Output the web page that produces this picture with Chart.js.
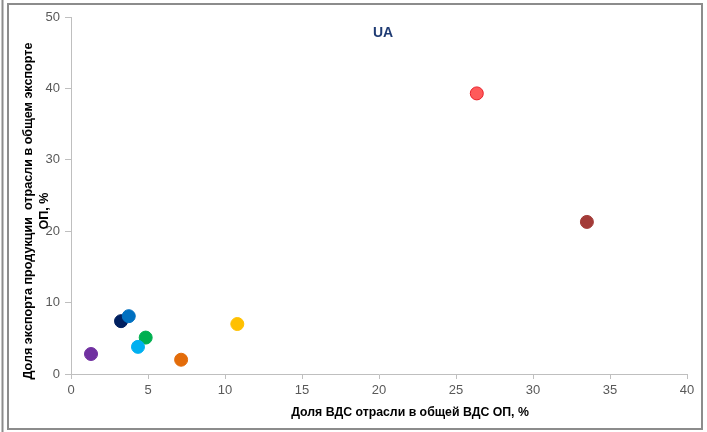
<!DOCTYPE html>
<html>
<head>
<meta charset="utf-8">
<script src="https://cdn.jsdelivr.net/npm/chart.js@4.4.1/dist/chart.umd.min.js"></script>
<style>
  html, body { margin: 0; padding: 0; background: #fff; }
  #wrap { width: 707px; height: 432px; position: relative; }
</style>
</head>
<body>
<div id="wrap"><canvas id="scatterChart" width="707" height="432"></canvas></div>
<script>
// Data - one point per industry (Chart.js paints the first dataset on top)
const xValues = [1.3, 3.75, 3.25, 4.35, 4.85, 7.15, 10.8, 26.35, 33.5];
const yValues = [2.8, 8.1, 7.4, 3.8, 5.1, 2.0, 7.0, 39.3, 21.3];
const pointColors = ["#7030A0", "#0070C0", "#002060", "#00B0F0", "#00B050", "#E36C0A", "#FFC000", "#FF5A5A", "#A33B38"];
const pointBorders = ["#7030A0", "#0070C0", "#002060", "#00B0F0", "#00B050", "#E36C0A", "#FFC000", "#E8202A", "#A33B38"];
const xTicks = [0, 5, 10, 15, 20, 25, 30, 35, 40];
const yTicks = [0, 10, 20, 30, 40, 50];

const chartTitle = "UA";
const xTitle = "Доля ВДС отрасли в общей ВДС ОП, %";
const yTitle = ["Доля экспорта продукции  отрасли в общем экспорте", "ОП, %"];

const datasets = xValues.map((x, i) => ({
  data: [{ x: x, y: yValues[i] }],
  backgroundColor: pointColors[i],
  borderColor: pointBorders[i],
  borderWidth: 1,
  pointRadius: 6.5,
}));

// frame + titles drawn by hand, Excel-like
const decorPlugin = {
  id: "decor",
  afterDraw(chart) {
    const c = chart.ctx;
    const area = chart.chartArea;
    c.save();
    c.strokeStyle = "#8c8c8c";
    c.lineWidth = 2;
    c.strokeRect(8, 4, 694, 425);
    c.beginPath();
    c.moveTo(2.5, 0);
    c.lineTo(2.5, 432);
    c.stroke();

    c.fillStyle = "#1F3B73";
    c.font = "bold 14px 'Liberation Sans', Arial, sans-serif";
    c.textAlign = "center";
    c.textBaseline = "middle";
    c.fillText(chartTitle, (area.left + area.right) / 2 + 4, 33);

    c.fillStyle = "#000";
    c.font = "bold 12.3px 'Liberation Sans', Arial, sans-serif";
    c.fillText(xTitle, (area.left + area.right) / 2 + 31, 413);

    c.rotate(-Math.PI / 2);
    c.font = "bold 12.6px 'Liberation Sans', Arial, sans-serif";
    c.fillText(yTitle[0], -211, 29);
    c.fillText(yTitle[1], -211, 45);
    c.restore();
  },
};

const ctx = document.getElementById("scatterChart").getContext("2d");

new Chart(ctx, {
  type: "scatter",
  data: { datasets: datasets },
  options: {
    responsive: false,
    animation: false,
    layout: { padding: { top: 17, right: 20, left: 0, bottom: 0 } },
    scales: {
      x: {
        type: "linear",
        min: 0,
        max: 40,
        afterBuildTicks: (scale) => { scale.ticks = xTicks.map((v) => ({ value: v })); },
        afterFit: (scale) => { scale.height = 58; },
        border: { display: true, color: "#BFBFBF", width: 1 },
        grid: { display: true, drawOnChartArea: false, drawTicks: true, tickLength: 5, color: "#BFBFBF" },
        ticks: { color: "#595959", font: { size: 13, family: "'Liberation Sans', Arial, sans-serif" }, padding: 4, maxRotation: 0 },
      },
      y: {
        type: "linear",
        min: 0,
        max: 50,
        afterBuildTicks: (scale) => { scale.ticks = yTicks.map((v) => ({ value: v })); },
        afterFit: (scale) => { scale.width = 71; },
        border: { display: true, color: "#BFBFBF", width: 1 },
        grid: { display: true, drawOnChartArea: false, drawTicks: true, tickLength: 6, color: "#BFBFBF" },
        ticks: { color: "#595959", font: { size: 13, family: "'Liberation Sans', Arial, sans-serif" }, padding: 5 },
      },
    },
    plugins: {
      legend: { display: false },
      tooltip: { enabled: false },
    },
  },
  plugins: [decorPlugin],
});
</script>
</body>
</html>
